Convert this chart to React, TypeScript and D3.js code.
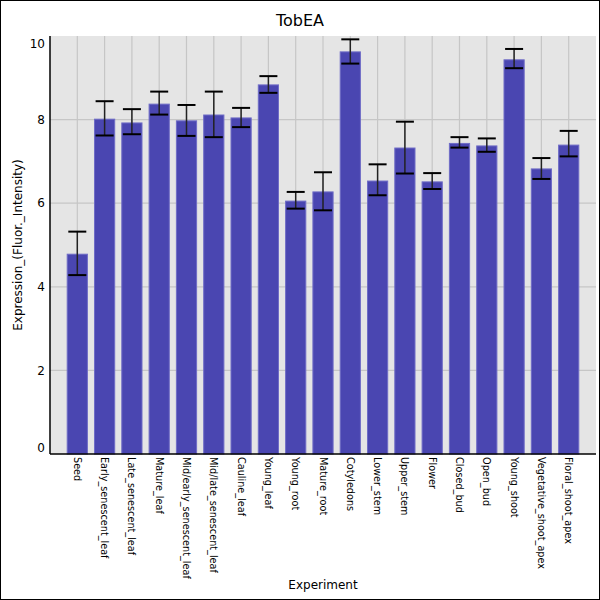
import React, { useRef, useEffect } from "react";
import * as d3 from "d3";

const categories = [
  "Seed", "Early_senescent_leaf", "Late_senescent_leaf", "Mature_leaf",
  "Mid/early_senescent_leaf", "Mid/late_senescent_leaf", "Cauline_leaf",
  "Young_leaf", "Young_root", "Mature_root", "Cotyledons", "Lower_stem",
  "Upper_stem", "Flower", "Closed_bud", "Open_bud", "Young_shoot",
  "Vegetative_shoot_apex", "Floral_shoot_apex",
];
const values = [4.78, 8.01, 7.92, 8.37, 7.97, 8.11, 8.04, 8.83, 6.05, 6.27, 9.62, 6.53, 7.32, 6.51, 7.43, 7.37, 9.43, 6.82, 7.39];
const errHigh = [5.32, 8.44, 8.25, 8.67, 8.35, 8.67, 8.28, 9.04, 6.27, 6.74, 9.92, 6.93, 7.95, 6.72, 7.58, 7.55, 9.69, 7.08, 7.73];
const errLow = [4.28, 7.62, 7.65, 8.12, 7.61, 7.58, 7.82, 8.64, 5.87, 5.83, 9.34, 6.19, 6.71, 6.34, 7.33, 7.23, 9.23, 6.58, 7.12];
const yTicks = [0, 2, 4, 6, 8, 10];

const W = 600;
const H = 600;
const plot = { left: 50, right: 596, top: 36, bottom: 454 };
const font = "'DejaVu Sans', sans-serif";

export default function App() {
  const svgRef = useRef<SVGSVGElement>(null);

  useEffect(() => {
    document.body.style.margin = "0";
    if (!svgRef.current) return;
    const svg = d3.select(svgRef.current);
    svg.selectAll("*").remove();

    const x = d3.scaleLinear().domain([0, categories.length + 1]).range([plot.left, plot.right]);
    const y = d3.scaleLinear().domain([0, 10]).range([plot.bottom, plot.top]);
    const step = x(1) - x(0);
    const barW = step * 0.74;
    const capW = 18;

    svg.append("rect").attr("width", W).attr("height", H).attr("fill", "#fff");
    svg.append("rect").attr("x", 0.5).attr("y", 0.5).attr("width", W - 1).attr("height", H - 1)
      .attr("fill", "none").attr("stroke", "#000");

    svg.append("rect")
      .attr("x", plot.left).attr("y", plot.top)
      .attr("width", plot.right - plot.left).attr("height", plot.bottom - plot.top)
      .attr("fill", "#e5e5e5");

    // grid
    svg.append("g").selectAll("line").data(yTicks.filter(t => t > 0 && t < 10)).join("line")
      .attr("x1", plot.left).attr("x2", plot.right)
      .attr("y1", d => y(d)).attr("y2", d => y(d))
      .attr("stroke", "#c6c6c6").attr("stroke-width", 1.2);
    svg.append("g").selectAll("line").data(categories).join("line")
      .attr("x1", (_, i) => x(i + 1)).attr("x2", (_, i) => x(i + 1))
      .attr("y1", plot.top).attr("y2", plot.bottom)
      .attr("stroke", "#c6c6c6").attr("stroke-width", 1.2);

    // bars
    svg.append("g").selectAll("rect").data(values).join("rect")
      .attr("x", (_, i) => x(i + 1) - barW / 2)
      .attr("y", d => y(d))
      .attr("width", barW)
      .attr("height", d => y(0) - y(d))
      .attr("fill", "#4a46b1")
      .attr("stroke", "#6f6cc6")
      .attr("stroke-width", 1);

    // error bars
    const eg = svg.append("g");
    categories.forEach((_, i) => {
      const cx = x(i + 1);
      eg.append("line").attr("x1", cx).attr("x2", cx)
        .attr("y1", y(errHigh[i])).attr("y2", y(errLow[i]))
        .attr("stroke", "#222").attr("stroke-width", 1.5);
      [errHigh[i], errLow[i]].forEach(v => {
        eg.append("line").attr("x1", cx - capW / 2).attr("x2", cx + capW / 2)
          .attr("y1", y(v)).attr("y2", y(v))
          .attr("stroke", "#000").attr("stroke-width", 2);
      });
    });

    // axes lines
    svg.append("line").attr("x1", plot.left).attr("x2", plot.left)
      .attr("y1", plot.top).attr("y2", plot.bottom).attr("stroke", "#000").attr("stroke-width", 1.5);
    svg.append("line").attr("x1", plot.left).attr("x2", plot.right)
      .attr("y1", plot.bottom).attr("y2", plot.bottom).attr("stroke", "#000").attr("stroke-width", 1.5);

    // y tick labels (end labels pulled inside the plot)
    svg.append("g").selectAll("text").data(yTicks).join("text")
      .attr("x", 45)
      .attr("y", d => d === 10 ? y(d) + 8 : d === 0 ? y(d) - 6 : y(d))
      .attr("dy", "0.35em")
      .attr("text-anchor", "end")
      .attr("font-family", font).attr("font-size", 12)
      .text(d => d);

    // x labels
    svg.append("g").selectAll("text").data(categories).join("text")
      .attr("transform", (_, i) => `translate(${x(i + 1)},457) rotate(90)`)
      .attr("dy", "0.35em")
      .attr("font-family", font).attr("font-size", 9.7)
      .text(d => d);

    svg.append("text").attr("x", W / 2).attr("y", 26)
      .attr("text-anchor", "middle").attr("font-family", font).attr("font-size", 16)
      .text("TobEA");
    svg.append("text").attr("x", (plot.left + plot.right) / 2).attr("y", 589)
      .attr("text-anchor", "middle").attr("font-family", font).attr("font-size", 12)
      .text("Experiment");
    svg.append("text")
      .attr("transform", `translate(22,${(plot.top + plot.bottom) / 2}) rotate(-90)`)
      .attr("text-anchor", "middle").attr("font-family", font).attr("font-size", 12)
      .text("Expression_(Fluor._Intensity)");
  }, []);

  return <svg ref={svgRef} width={W} height={H} style={{ display: "block" }} />;
}
